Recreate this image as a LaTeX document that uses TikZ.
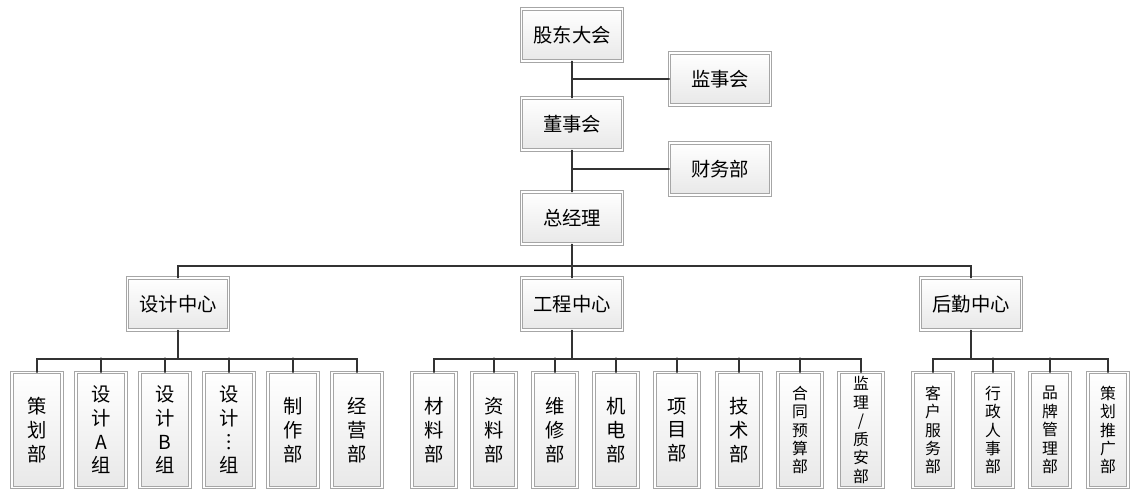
\documentclass[tikz,border=0pt]{standalone}
\usepackage{fontspec}
\setmainfont{Noto Sans CJK SC}
\begin{document}
\begin{tikzpicture}
		[x=0.02cm,y=-0.02cm,line cap=round,
		%Styles
		box/.style={draw=gray!70,double=white,double distance=1.1pt,
			top color=white,bottom color=gray!18,inner sep=0pt,
			font=\fontsize{11}{13}\selectfont},
		top box/.style={box,minimum width=2.02cm,minimum height=1.04cm},
		tall box/.style={box,minimum width=#1,minimum height=2.3cm,
			align=center,font=\fontsize{11}{13.5}\selectfont},
		small text/.style={font=\fontsize{9}{10.5}\selectfont},
		link/.style={thick,black!80}
		]
		\useasboundingbox (0,0) rectangle (1140,501);
		
		%Top chain
		\node[top box] (gd) at (572,35) {股东大会};
		\node[top box] (jsh) at (720,79) {监事会};
		\node[top box] (dsh) at (572,124) {董事会};
		\node[top box] (cwb) at (720,169) {财务部};
		\node[top box] (zjl) at (572,218) {总经理};
		\draw[link] (gd) -- (dsh) (dsh) -- (zjl);
		\draw[link] (572,79) -- (jsh.west);
		\draw[link] (572,169) -- (cwb.west);
		
		%Centres
		\node[top box] (sj) at (178,304) {设计中心};
		\node[top box] (gc) at (572,304) {工程中心};
		\node[top box] (hq) at (971,304) {后勤中心};
		\coordinate (bus) at (572,266);
		\draw[link] (zjl) -- (bus);
		\draw[link] (sj.north) |- (bus) -| (hq.north);
		\draw[link] (bus) -- (gc);
		
		%Departments
		\foreach \x/\t [count=\i] in {37/策\\划\\部, 101/设\\计\\A\\组, 165/设\\计\\B\\组,
			229/设\\计\\︙\\组, 293/制\\作\\部, 357/经\\营\\部}
			\node[tall box=1.0cm] (a\i) at (\x,430) {\t};
		\foreach \x/\t [count=\i] in {434/材\\料\\部, 494/资\\料\\部, 555/维\\修\\部,
			616/机\\电\\部, 677/项\\目\\部, 739/技\\术\\部}
			\node[tall box=0.88cm] (b\i) at (\x,430) {\t};
		\node[tall box=0.88cm,small text] (b7) at (800,430) {合\\同\\预\\算\\部};
		\node[tall box=0.88cm,small text] (b8) at (861,430) {监\\理\\{/}\\质\\安\\部};
		\foreach \x/\t [count=\i] in {933/客\\户\\服\\务\\部, 993/行\\政\\人\\事\\部,
			1050/品\\牌\\管\\理\\部, 1108/策\\划\\推\\广\\部}
			\node[tall box=0.8cm,small text] (c\i) at (\x,430) {\t};
		
		\draw[link] (sj) -- (178,359);
		\draw[link] (gc) -- (572,359);
		\draw[link] (hq) -- (971,359);
		\draw[link] (a1.north) |- (178,359) -| (a6.north);
		\foreach \i in {2,...,5} \draw[link] (a\i.north) -- ++(0,-14);
		\draw[link] (b1.north) |- (572,359) -| (b8.north);
		\foreach \i in {2,...,7} \draw[link] (b\i.north) -- ++(0,-14);
		\draw[link] (c1.north) |- (971,359) -| (c4.north);
		\foreach \i in {2,3} \draw[link] (c\i.north) -- ++(0,-14);
	\end{tikzpicture}
\end{document}
